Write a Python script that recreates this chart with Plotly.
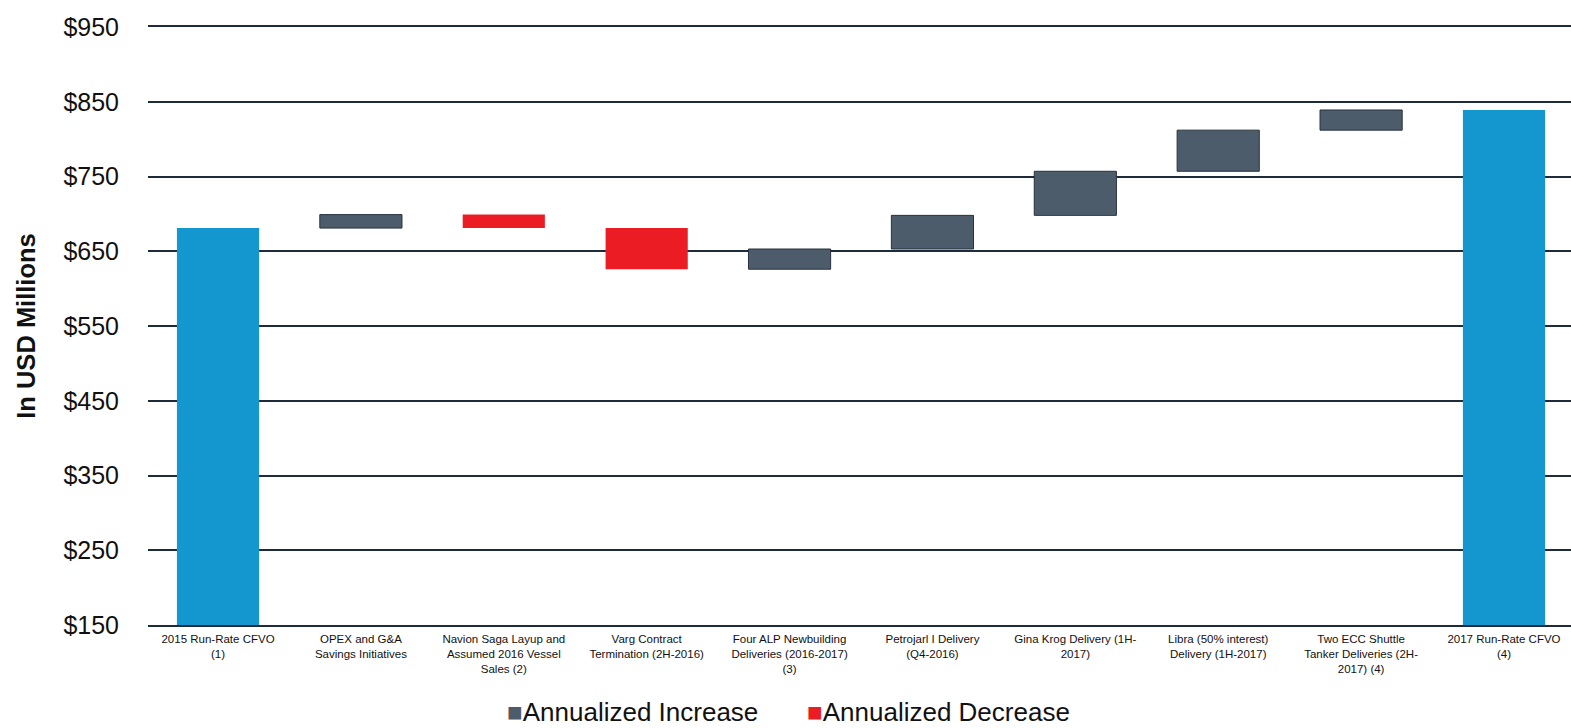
import plotly.graph_objects as go

# Cash flow bridge: 2015 run-rate CFVO to 2017 run-rate CFVO (USD millions)
categories = [
    "2015 Run-Rate CFVO<br>(1)",
    "OPEX and G&A<br>Savings Initiatives",
    "Navion Saga Layup and<br>Assumed 2016 Vessel<br>Sales (2)",
    "Varg Contract<br>Termination (2H-2016)",
    "Four ALP Newbuilding<br>Deliveries (2016-2017)<br>(3)",
    "Petrojarl I Delivery<br>(Q4-2016)",
    "Gina Krog Delivery (1H-<br>2017)",
    "Libra (50% interest)<br>Delivery (1H-2017)",
    "Two ECC Shuttle<br>Tanker Deliveries (2H-<br>2017) (4)",
    "2017 Run-Rate CFVO<br>(4)",
]
measures = ["absolute"] + ["relative"] * 8 + ["total"]
values = [681, 18, -18, -55, 27, 45, 59, 55, 27, 0]

y_ticks = [150, 250, 350, 450, 550, 650, 750, 850, 950]
y_tick_labels = ["$150", "$250", "$350", "$450", "$550", "$650", "$750", "$850", "$950"]

INCREASE = "#4d5c6b"
DECREASE = "#ec1c24"
TOTAL = "#1496cf"
GRID = "#1e2b3b"

fig = go.Figure()
fig.add_trace(go.Waterfall(
    x=categories,
    y=values,
    measure=measures,
    width=0.575,
    increasing=dict(marker=dict(color=INCREASE, line=dict(color="#27323e", width=1))),
    decreasing=dict(marker=dict(color=DECREASE, line=dict(color=DECREASE, width=0))),
    totals=dict(marker=dict(color=TOTAL, line=dict(color=TOTAL, width=0))),
    connector=dict(visible=False),
    showlegend=False,
))

fig.update_layout(
    width=1571,
    height=728,
    margin=dict(l=148, r=0, t=27, b=103),
    paper_bgcolor="white",
    plot_bgcolor="white",
    font=dict(family="Liberation Sans, Arial, sans-serif", color="#111111"),
    showlegend=False,
    xaxis=dict(
        range=[-0.49, 9.469],
        showgrid=False,
        showline=True,
        linecolor=GRID,
        linewidth=1.6,
        mirror=True,
        zeroline=False,
        ticks="",
        tickangle=0,
        ticklabelstandoff=2,
        tickfont=dict(size=11.5, color="#111111"),
    ),
    yaxis=dict(
        range=[150, 950],
        tickvals=y_ticks,
        ticktext=y_tick_labels,
        showgrid=True,
        gridcolor=GRID,
        gridwidth=1.6,
        zeroline=False,
        showline=False,
        ticks="",
        ticklabelstandoff=28,
        tickfont=dict(size=25, color="#111111"),
        title=dict(text="<b>In USD Millions</b>", font=dict(size=25.5, color="#111111"), standoff=20),
    ),
    annotations=[
        dict(
            text=f'<span style="color:{INCREASE}">■</span>Annualized Increase',
            xref="paper", yref="paper", x=(505 - 148) / 1423, y=(625 - 712) / 598,
            xanchor="left", yanchor="middle", showarrow=False,
            font=dict(size=26, color="#111111"),
        ),
        dict(
            text=f'<span style="color:{DECREASE}">■</span>Annualized Decrease',
            xref="paper", yref="paper", x=(805 - 148) / 1423, y=(625 - 712) / 598,
            xanchor="left", yanchor="middle", showarrow=False,
            font=dict(size=26, color="#111111"),
        ),
    ],
)

fig.write_html("out.html")
